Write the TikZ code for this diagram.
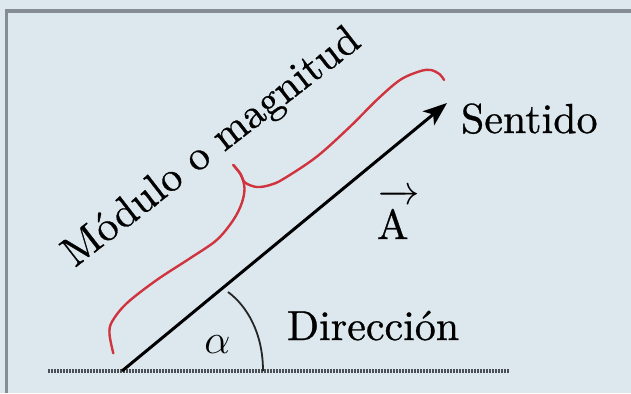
\documentclass[tikz,border=0pt]{standalone}
\usepackage{fontspec}
\usetikzlibrary{arrows.meta}
\newfontfamily\lmheavy{lmroman10-regular.otf}[FakeBold=0.7]
\definecolor{bgcol}{HTML}{DCE8EE}
\definecolor{framecol}{HTML}{858D93}
\definecolor{bracecol}{HTML}{D0343F}
\definecolor{basecol}{HTML}{4A5054}
\begin{document}
\begin{tikzpicture}[x=0.5pt,y=-0.5pt,
  lbl/.style={inner sep=0pt,outer sep=0pt,font=\lmheavy\fontsize{21}{25}\selectfont},
  vec/.style={line width=1.5pt,-{Stealth[length=12pt,width=9pt,inset=3pt]}},
  bracestyle/.style={bracecol,line width=1.2pt,line cap=round},
  arcstyle/.style={line width=0.9pt,black!85},
  basestyle/.style={basecol,line width=1.7pt,dash pattern=on 1pt off 0.5pt},
  framestyle/.style={framecol,line width=2pt}]
\useasboundingbox (0,0) rectangle (631,393);
\fill[bgcol] (0,0) rectangle (631,393);
% frame
\coordinate (FT1) at (5,10.5);
\coordinate (FT2) at (631,10.5);
\coordinate (FL1) at (6.5,9);
\coordinate (FL2) at (6.5,393);
\draw[framestyle] (FT1) -- (FT2);
\draw[framestyle,line width=1.6pt] (FL1) -- (FL2);
% baseline
\coordinate (B1) at (48,371);
\coordinate (B2) at (510,371);
\draw[basestyle] (B1) -- (B2);
% vector
\coordinate (O) at (122,371);
\coordinate (T) at (447,103);
\draw[vec] (O) -- (T);
% angle arc
\coordinate (ArcS) at (228,292);
\coordinate (ArcE) at (263,371);
\draw[arcstyle] (ArcS) .. controls (247,306) and (263,333) .. (ArcE);
% brace
\draw[bracestyle] plot[smooth,tension=0.55] coordinates {(113.3,353.3) (109.5,334) (112,321.7) (126.7,303.3) (156.7,280) (190,258.3) (216.7,240) (233.3,220) (241.7,203.3) (244.5,188.3) (241,175) (233.3,165)};
\draw[bracestyle] plot[smooth,tension=0.55] coordinates {(233.3,165) (240.5,174) (245,182.5) (256.7,187) (270,185) (283.3,179) (316.7,156.7) (350,126.7) (376.7,100) (400,80) (420,71.2) (431,70) (440,74.5) (444,80)};
% labels
\node[lbl,anchor=base west,rotate=37.8] (mod) at (75,268) {Módulo o magnitud};
\node[lbl,anchor=base west] (sent) at (461,133) {Sentido};
\node[lbl,anchor=base west] (dir) at (287,340) {Dirección};
\node[lbl] (alpha) at (217.5,345) {$\alpha$};
\node[lbl,anchor=base west] (A) at (377,239) {$\overrightarrow{\mbox{\lmheavy A}\rule{0pt}{0.86em}\mkern5mu}$};
\end{tikzpicture}
\end{document}
